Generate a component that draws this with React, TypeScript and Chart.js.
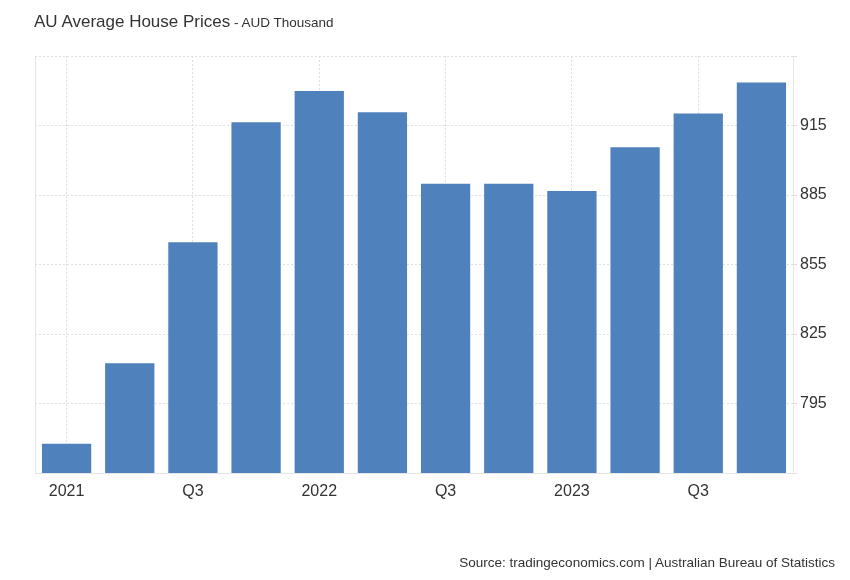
import React, { useEffect, useRef } from "react";
import { Chart, registerables } from "chart.js";

Chart.register(...registerables);

const categories = [
  "2021 Q1", "2021 Q2", "2021 Q3", "2021 Q4",
  "2022 Q1", "2022 Q2", "2022 Q3", "2022 Q4",
  "2023 Q1", "2023 Q2", "2023 Q3", "2023 Q4",
];
const tickLabels = ["2021", "", "Q3", "", "2022", "", "Q3", "", "2023", "", "Q3", ""];
const prices = [777.6, 812.4, 864.6, 916.4, 929.9, 920.7, 889.9, 889.9, 886.7, 905.6, 920.2, 933.6];
const yMin = 765;
const yMax = 945;
const yStep = 30;

const FONT = "'Liberation Sans', Arial, sans-serif";

const leftBorderPlugin = {
  id: "leftBorder",
  afterDatasetsDraw(chart: any) {
    const { ctx, chartArea } = chart;
    ctx.save();
    ctx.strokeStyle = "#e6e6e6";
    ctx.lineWidth = 1;
    ctx.beginPath();
    ctx.moveTo(chartArea.left + 0.5, chartArea.top);
    ctx.lineTo(chartArea.left + 0.5, chartArea.bottom);
    ctx.stroke();
    ctx.restore();
  },
};

export default function App() {
  const ref = useRef<HTMLCanvasElement | null>(null);

  useEffect(() => {
    if (!ref.current) return;
    const chart = new Chart(ref.current, {
      type: "bar",
      data: {
        labels: categories,
        datasets: [
          {
            data: prices,
            backgroundColor: "#4f81bd",
            borderWidth: 0,
            categoryPercentage: 0.78,
            barPercentage: 1,
          },
        ],
      },
      options: {
        animation: false,
        responsive: false,
        maintainAspectRatio: false,
        layout: { padding: { left: 35, top: 56, right: 0, bottom: 0 } },
        plugins: {
          legend: { display: false },
          tooltip: { enabled: false },
          title: { display: false },
        },
        scales: {
          x: {
            offset: true,
            grid: {
              offset: false,
              drawTicks: false,
              color: (ctx: any) =>
                ctx.index !== undefined && tickLabels[ctx.index] ? "#e0e0e0" : "rgba(0,0,0,0)",
            },
            border: { display: true, color: "#e6e6e6", dash: [2, 2] },
            ticks: {
              autoSkip: false,
              maxRotation: 0,
              padding: 9,
              color: "#333333",
              font: { family: FONT, size: 16 },
              callback: (_v: any, i: number) => tickLabels[i],
            },
            afterFit: (scale: any) => {
              scale.height = 107;
            },
          },
          y: {
            position: "right",
            min: yMin,
            max: yMax,
            grid: { color: "#e0e0e0", tickLength: 4 },
            border: { display: true, color: "#e6e6e6", dash: [2, 2] },
            ticks: {
              stepSize: yStep,
              padding: 3,
              color: "#333333",
              font: { family: FONT, size: 16 },
              callback: (v: any) => (v === yMin || v === yMax ? "" : String(v)),
            },
            afterFit: (scale: any) => {
              scale.width = 57;
            },
          },
        },
      },
      plugins: [leftBorderPlugin],
    });
    return () => chart.destroy();
  }, []);

  return (
    <div style={{ position: "absolute", left: 0, top: 0, width: 850, height: 580, background: "#fff", fontFamily: FONT }}>
      <canvas ref={ref} width={850} height={580} style={{ position: "absolute", left: 0, top: 0 }} />
      <div style={{ position: "absolute", left: 34, top: 12, whiteSpace: "nowrap", color: "#333", lineHeight: "20px" }}>
        <span style={{ fontSize: 17 }}>AU Average House Prices</span>
        <span style={{ fontSize: 13.5 }}> - AUD Thousand</span>
      </div>
      <div style={{ position: "absolute", right: 15, top: 555, fontSize: 13.5, color: "#333", whiteSpace: "nowrap" }}>
        Source: tradingeconomics.com | Australian Bureau of Statistics
      </div>
    </div>
  );
}
